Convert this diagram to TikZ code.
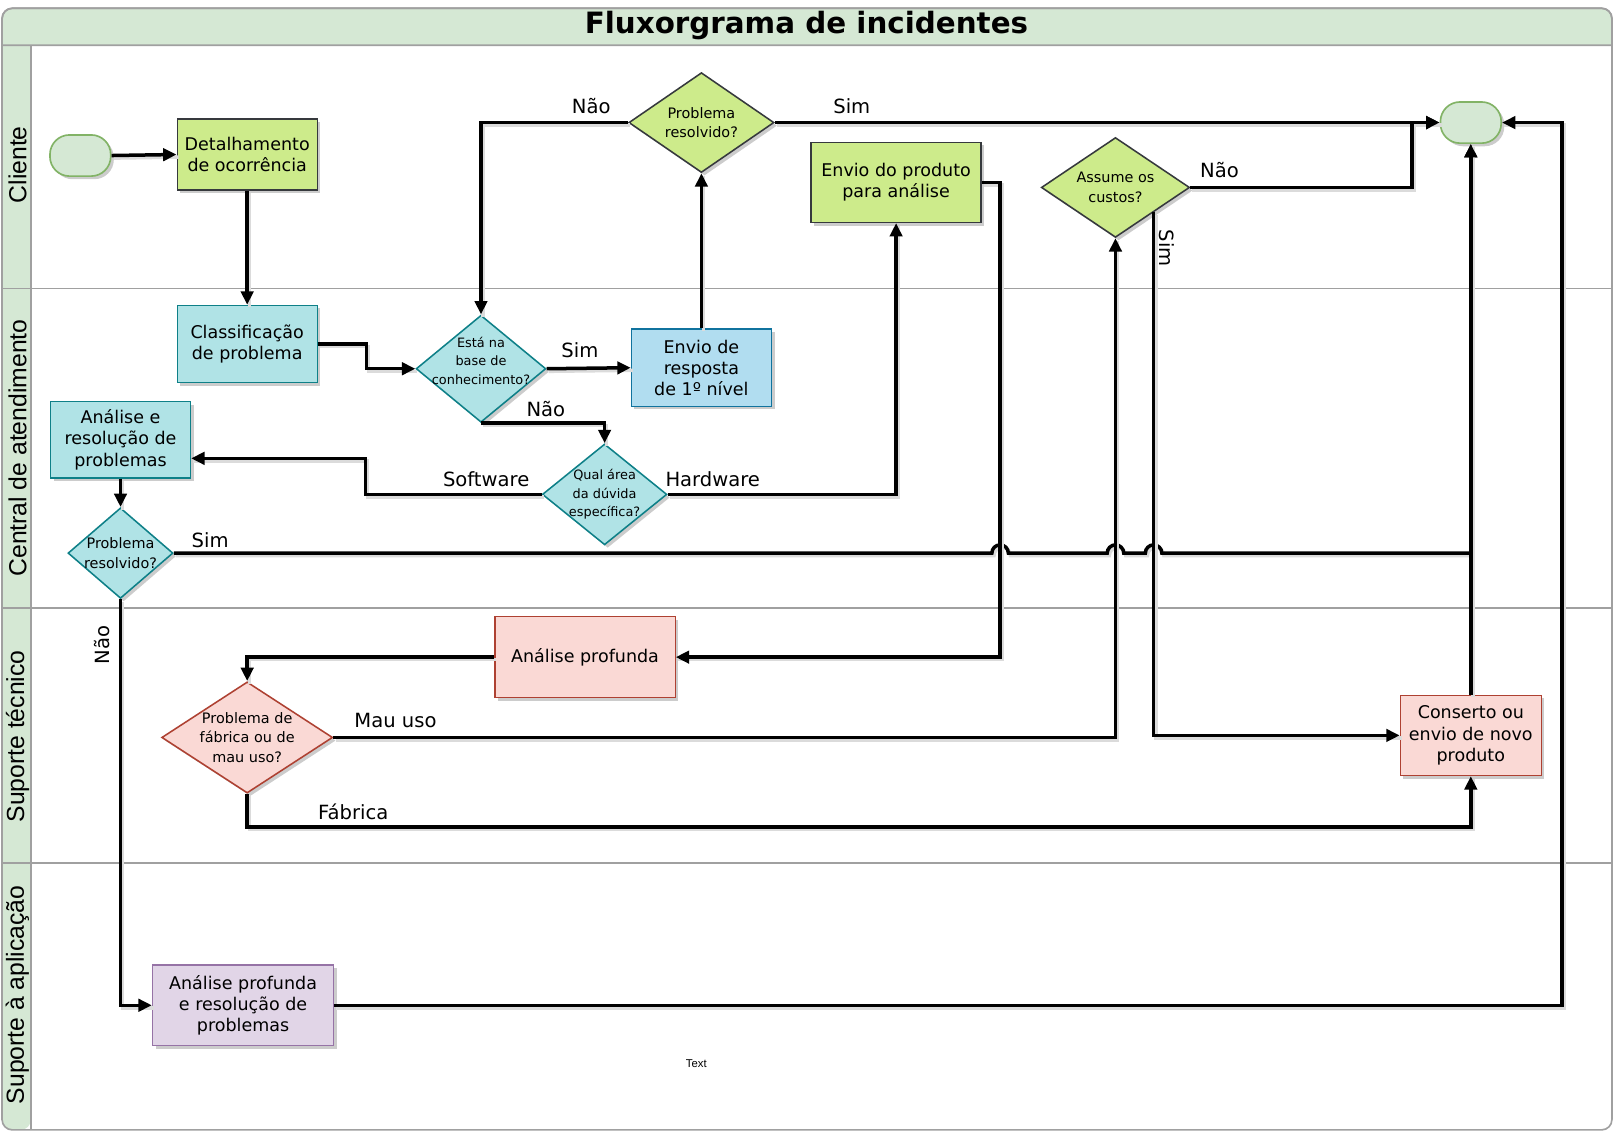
\documentclass[tikz,border=0pt]{standalone}
\usepackage{fontspec}
\setmainfont{DejaVu Sans}
\newfontfamily\lanefont{Liberation Sans}
\usetikzlibrary{shapes.geometric,arrows.meta,shadows,calc}
\definecolor{lanegreen}{HTML}{D5E8D4}
\definecolor{termb}{HTML}{82B366}
\definecolor{cgreen}{HTML}{CDEB8B}
\definecolor{cdark}{HTML}{36393D}
\definecolor{ccyan}{HTML}{B0E3E6}
\definecolor{ccyanb}{HTML}{0E8088}
\definecolor{cblue}{HTML}{B1DDF0}
\definecolor{cblueb}{HTML}{10739E}
\definecolor{cpink}{HTML}{FAD9D5}
\definecolor{cpinkb}{HTML}{AE4132}
\definecolor{cpurple}{HTML}{E1D5E7}
\definecolor{cpurpleb}{HTML}{9673A6}
\definecolor{laneline}{HTML}{A0A0A0}
\begin{document}
\begin{tikzpicture}[x=1pt,y=-1pt,
  shadowed/.style={drop shadow={shadow xshift=3pt,shadow yshift=-3pt,fill=black,opacity=0.2}},
  box/.style={rectangle, draw, line width=1.2pt, align=center, inner sep=2pt,
    font=\fontsize{17}{20.5}\selectfont, shadowed},
  dia/.style={diamond, draw, line width=1.5pt, inner sep=0pt, shadowed},
  dtext/.style={align=center, inner sep=0pt, font=\fontsize{14}{19}\selectfont},
  dsmall/.style={align=center, inner sep=0pt, font=\fontsize{12.5}{18}\selectfont},
  term/.style={rectangle, rounded corners=19pt, draw=termb, fill=lanegreen, line width=1.6pt,
    minimum width=59pt, minimum height=40pt, inner sep=0pt, shadowed},
  arr/.style={line width=3.4pt, -{Triangle[length=13pt,width=12pt]},
    preaction={draw=black!14, line width=3.4pt, -, transform canvas={xshift=2pt,yshift=-2.5pt}}},
  elabel/.style={inner sep=0pt, font=\fontsize{19}{22}\selectfont},
  lanelabel/.style={inner sep=0pt, rotate=90, font=\lanefont\fontsize{24}{26}\selectfont},
  laneln/.style={draw=laneline, line width=1.6pt}
]
\useasboundingbox (0,0) rectangle (1568,1101);
\fill[white] (0,0) rectangle (1568,1101);

% ---------- pool / lanes ----------
\fill[lanegreen, rounded corners=10pt] (2,44) -- (2,1097) -- (30,1097) -- (30,44) -- cycle;
\fill[lanegreen] (2,44) rectangle (30,60);
\filldraw[laneln, fill=lanegreen] (2,44) [rounded corners=10pt]-- (2,8) -- (1565,8) [sharp corners]-- (1565,44) -- cycle;
\draw[laneln, rounded corners=10pt] (2,8) rectangle (1565,1097);
\draw[laneln] (30,44) -- (30,1097);
\draw[laneln] (2,280) -- (1565,280);
\draw[laneln] (2,590) -- (1565,590);
\draw[laneln] (2,838) -- (1565,838);

\node[inner sep=0pt, font=\fontsize{28.5}{30}\selectfont\bfseries] (title) at (783,25) {Fluxorgrama de incidentes};
\node[lanelabel] (lane1) at (17,160) {Cliente};
\node[lanelabel] (lane2) at (17,435) {Central de atendimento};
\node[lanelabel] (lane3) at (17,715) {Suporte técnico};
\node[lanelabel] (lane4) at (17,966) {Suporte à aplicação};

% ---------- nodes ----------
\node[term] (start) at (78,151) {};
\node[term] (endn) at (1428,119) {};
\node[box, fill=cgreen, draw=cdark, minimum width=136pt, minimum height=69pt] (det) at (240,150) {Detalhamento\\de ocorrência};
\node[dia, fill=cgreen, draw=cdark, minimum width=141pt, minimum height=97pt,
  label={[dtext]center:Problema\\resolvido?}] (pr1) at (681,119) {};
\node[box, fill=cgreen, draw=cdark, minimum width=165pt, minimum height=78pt] (envp) at (870,177) {Envio do produto\\para análise};
\node[dia, fill=cgreen, draw=cdark, minimum width=144pt, minimum height=97pt,
  label={[dtext]center:Assume os\\custos?}] (ac) at (1083,182) {};
\node[box, fill=ccyan, draw=ccyanb, minimum width=136pt, minimum height=75pt] (cls) at (240,334) {Classificação\\de problema};
\node[dia, fill=ccyan, draw=ccyanb, minimum width=126pt, minimum height=104pt,
  label={[dsmall, yshift=8pt]center:Está na\\base de\\conhecimento?}] (kb) at (467,358) {};
\node[box, fill=cblue, draw=cblueb, minimum width=136pt, minimum height=75pt] (resp) at (681,357) {Envio de\\resposta\\de 1º nível};
\node[box, fill=ccyan, draw=ccyanb, minimum width=136pt, minimum height=74pt] (aer) at (117,427) {Análise e\\resolução de\\problemas};
\node[dia, fill=ccyan, draw=ccyanb, minimum width=121pt, minimum height=98pt,
  label={[dsmall]center:Qual área\\da dúvida\\específica?}] (qa) at (587,480) {};
\node[dia, fill=ccyan, draw=ccyanb, minimum width=102pt, minimum height=88pt,
  label={[dtext]center:Problema\\resolvido?}] (pr2) at (117,537) {};
\node[box, fill=cpink, draw=cpinkb, minimum width=175pt, minimum height=79pt] (ap) at (568,638) {Análise profunda};
\node[dia, fill=cpink, draw=cpinkb, minimum width=166pt, minimum height=108pt,
  label={[dtext]center:Problema de\\fábrica ou de\\mau uso?}] (fab) at (240,716) {};
\node[box, fill=cpink, draw=cpinkb, minimum width=137pt, minimum height=78pt] (cons) at (1428,714) {Conserto ou\\envio de novo\\produto};
\node[box, fill=cpurple, draw=cpurpleb, minimum width=176pt, minimum height=78pt] (apr) at (236,976) {Análise profunda\\e resolução de\\problemas};
\node[inner sep=0pt, font=\lanefont\fontsize{11}{13}\selectfont] (txt) at (676,1033) {Text};

% ---------- connectors ----------
\draw[arr] (start.east) -- (det.west);
\draw[arr] (det.south) -- (cls.north);
\draw[arr] (cls.east) -- ++(47,0) |- (kb.west);
\draw[arr] (kb.east) -- (resp.west);
\draw[arr] (resp.north) -- (pr1.south);
\draw[arr] (pr1.west) -| (kb.north);
\draw[arr] (pr1.east) -- (endn.west);
\draw[arr] (kb.south) -| (qa.north);
\draw[arr] (qa.west) -- ++(-171,0) |- ($(aer.east)+(0,18)$);
\draw[arr] (qa.east) -| (envp.south);
\draw[arr] (aer.south) -- (pr2.north);
\draw[arr] (pr2.east) -- (963,537) arc[start angle=180,end angle=0,radius=8pt]
  -- (1075,537) arc[start angle=180,end angle=0,radius=8pt]
  -- (1112,537) arc[start angle=180,end angle=0,radius=8pt] -| (endn.south);
\draw[arr] (pr2.south) |- (apr.west);
\draw[arr] (envp.east) -- ++(18,0) |- (ap.east);
\draw[arr] (ap.west) -| (fab.north);
\draw[arr] (fab.east) -| (ac.south);
\draw[arr] (fab.south) -- ++(0,32) -| (cons.south);
\draw[arr] (ac.east) -- ++(215,0) |- (endn.west);
\draw[arr] ($(ac.east)!0.49!(ac.south)$) |- (cons.west);
\draw[arr] (apr.east) -- ++(1192,0) |- (endn.east);
\draw[arr] (cons.north) -- (endn.south);

% ---------- connector labels ----------
\node[elabel] (l1) at (574,103) {Não};
\node[elabel] (l2) at (827,103) {Sim};
\node[elabel] (l3) at (563,340) {Sim};
\node[elabel] (l4) at (530,397) {Não};
\node[elabel] (l5) at (472,465) {Software};
\node[elabel] (l6) at (692,465) {Hardware};
\node[elabel] (l7) at (204,524) {Sim};
\node[elabel, rotate=90] (l8) at (99,626) {Não};
\node[elabel] (l9) at (1184,165) {Não};
\node[elabel, rotate=-90] (l10) at (1133,241) {Sim};
\node[elabel] (l11) at (384,700) {Mau uso};
\node[elabel] (l12) at (343,788) {Fábrica};
\end{tikzpicture}
\end{document}
